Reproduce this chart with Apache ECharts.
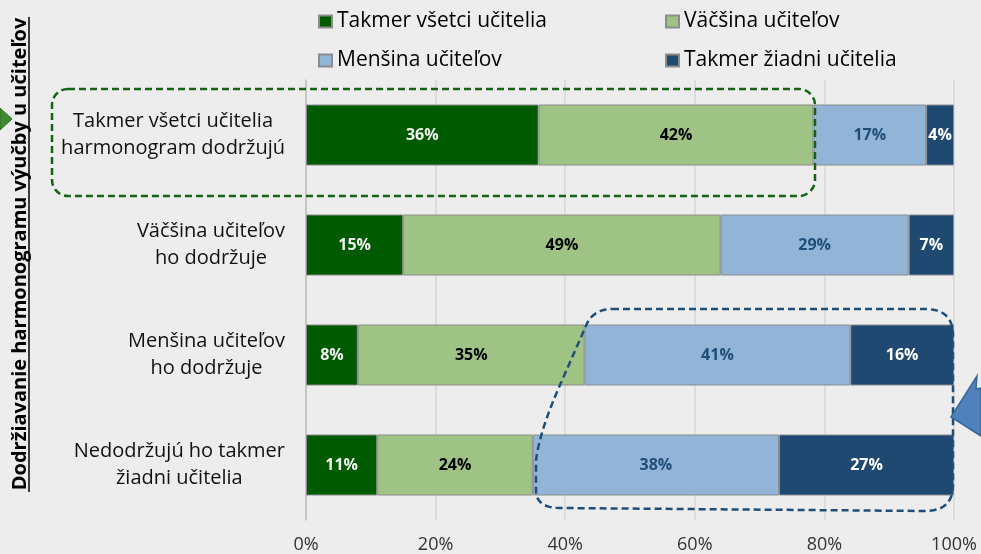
<!DOCTYPE html>
<html><head><meta charset="utf-8">
<script src="https://cdn.jsdelivr.net/npm/echarts@6/dist/echarts.min.js"></script>
<style>html,body{margin:0;padding:0;background:#EDEDED}#c{width:981px;height:554px}</style>
</head><body><div id="c"></div>
<script>
const categories = ['Takmer všetci učitelia\nharmonogram dodržujú', 'Väčšina učiteľov\nho dodržuje', 'Menšina učiteľov\nho dodržuje', 'Nedodržujú ho takmer\nžiadni učitelia'];
const seriesNames = ['Takmer všetci učitelia', 'Väčšina učiteľov', 'Menšina učiteľov', 'Takmer žiadni učitelia'];
const almostAll = [35.9, 15, 8, 11];
const most = [42.4, 49, 35, 24];
const minority = [17.4, 29, 41, 38];
const almostNone = [4.3, 7, 16, 27];
const xTickLabels = ['0%', '20%', '40%', '60%', '80%', '100%'];
const axisTitle = 'Dodržiavanie harmonogramu výučby u učiteľov';

const FONT = '"Open Sans", "Noto Sans", sans-serif';
const colors = ['#005A00', '#9FC385', '#92B4D6', '#1F4970'];
const labelColors = ['#F2F2F2', '#000000', '#1F4E79', '#FFFFFF'];
const seriesData = [almostAll, most, minority, almostNone];

// outline of the blue dashed callout (decoration), sampled from line / quadratic segments
function outline(start, segs) {
  const pts = [start];
  let cur = start;
  segs.forEach(s => {
    if (s.length === 1) { pts.push(s[0]); cur = s[0]; }
    else {
      const [c, e] = s;
      for (let t = 1; t <= 12; t++) {
        const u = t / 12;
        pts.push([(1-u)*(1-u)*cur[0] + 2*(1-u)*u*c[0] + u*u*e[0], (1-u)*(1-u)*cur[1] + 2*(1-u)*u*c[1] + u*u*e[1]]);
      }
      cur = e;
    }
  });
  return pts;
}
const blueShape = outline([612, 309], [
  [[925, 309]], [[953, 309], [953, 335]], [[953, 485]], [[953, 511], [925, 511]],
  [[560, 508]], [[536, 508], [536, 490]], [[536, 460]], [[540, 430], [560, 385]],
  [[585, 328]], [[592, 309], [612, 309]]
]);

const chart = echarts.init(document.getElementById('c'));
const legendPos = [[318, 11], [665, 11], [318, 50], [665, 50]];

chart.setOption({
  backgroundColor: '#EDEDED',
  animation: false,
  grid: { left: 306, right: 27, top: 80, bottom: 33, containLabel: false },
  legend: seriesNames.map((n, i) => ({
    data: [n], left: legendPos[i][0], top: legendPos[i][1], padding: 0,
    itemWidth: 13, itemHeight: 12, icon: 'rect',
    textStyle: { fontSize: 21, color: '#000', fontFamily: FONT }
  })),
  xAxis: {
    type: 'value', min: 0, max: 100, interval: 20,
    axisLine: { show: false }, axisTick: { show: false },
    splitLine: { lineStyle: { color: '#D6D6D6', width: 1.5 } },
    axisLabel: { margin: 16, fontSize: 18, color: '#333', fontFamily: FONT,
      formatter: v => xTickLabels[Math.round(v / 20)] }
  },
  yAxis: {
    type: 'category', inverse: true, data: categories,
    axisLine: { lineStyle: { color: '#BFBFBF', width: 1.5 } },
    axisTick: { show: false },
    axisLabel: {
      align: 'right', margin: 21,
      formatter: v => v.split('\n').map(l => '{c|' + l + '}').join('\n'),
      rich: { c: { align: 'center', fontSize: 20, lineHeight: 27, color: '#111', fontFamily: FONT } }
    }
  },
  series: seriesNames.map((n, i) => ({
    name: n, type: 'bar', stack: 'all', barWidth: 61,
    data: seriesData[i],
    itemStyle: { color: colors[i], borderColor: '#8C8C8C', borderWidth: 1 },
    label: { show: true, position: 'inside', fontSize: 16, fontWeight: 'bold',
      color: labelColors[i], fontFamily: FONT,
      formatter: p => Math.round(p.value) + '%' }
  })),
  graphic: [
    { type: 'text', x: 20, y: 254, rotation: Math.PI / 2, z: 50,
      style: { text: axisTitle, fontSize: 20, fontWeight: 'bold', fontFamily: FONT, fill: '#000',
        align: 'center', verticalAlign: 'middle' } },
    { type: 'line', z: 50, shape: { x1: 29, y1: 17, x2: 29, y2: 492 }, style: { stroke: '#000', lineWidth: 1.5 } },
    { type: 'polygon', z: 40, shape: { points: [[0, 108], [12, 119], [0, 130]] },
      style: { fill: '#3F8A2E', stroke: '#2E6B22', lineWidth: 1 } },
    { type: 'rect', z: 60, shape: { x: 52, y: 89, width: 763, height: 107, r: 16 },
      style: { fill: null, stroke: '#146414', lineWidth: 2.5, lineDash: [7, 4] } },
    { type: 'polygon', z: 60, shape: { points: blueShape },
      style: { fill: null, stroke: '#1F4E79', lineWidth: 2.5, lineDash: [7, 4] } },
    { type: 'polygon', z: 70, shape: { points: [[951, 417], [977, 376], [976, 389], [981, 388], [981, 436]] },
      style: { fill: '#4F81BD', stroke: '#3A6795', lineWidth: 1.5 } }
  ]
});
</script></body></html>
